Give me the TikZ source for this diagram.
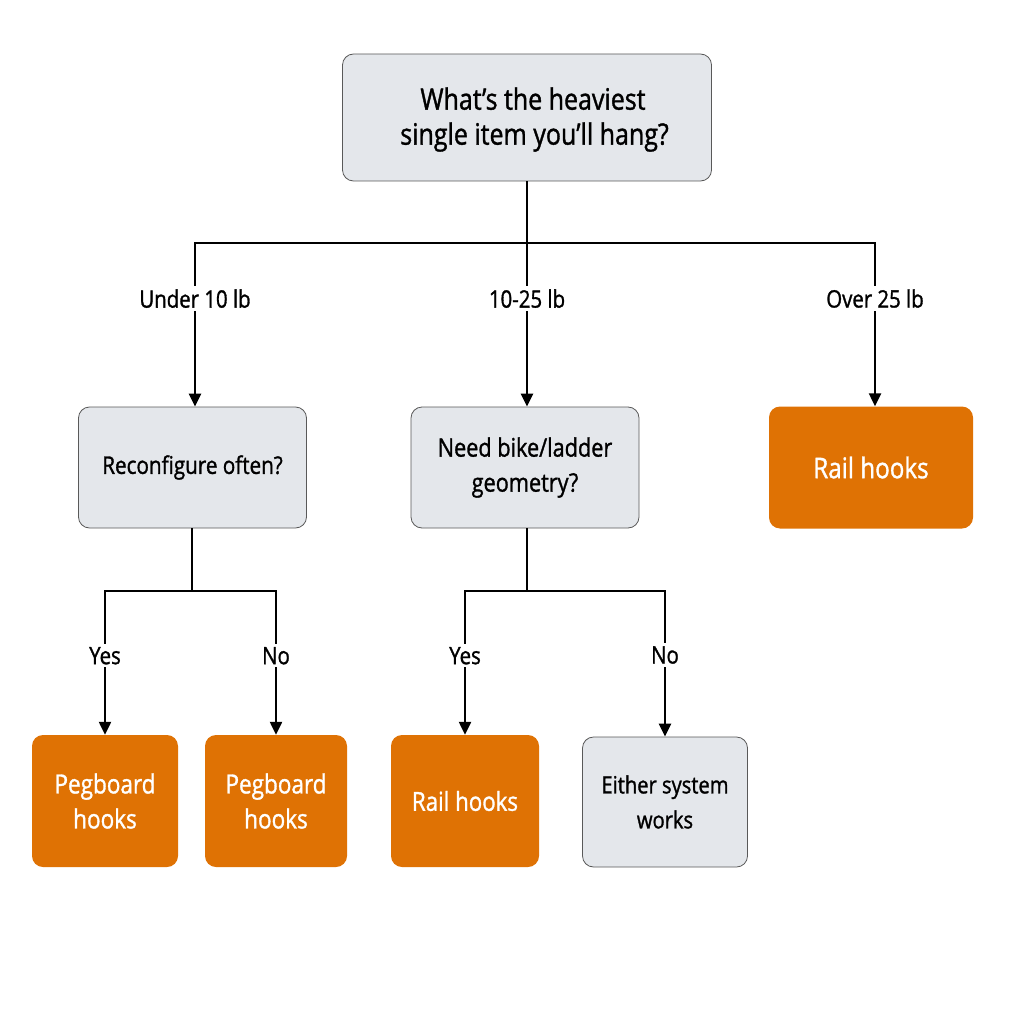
\documentclass[tikz,border=0pt]{standalone}
\usepackage{fontspec}
\setmainfont[FakeStretch=0.85,FakeBold=1.2]{Open Sans}
\usetikzlibrary{arrows.meta}

\definecolor{boxgray}{HTML}{E4E7EB}
\definecolor{boxorange}{HTML}{DF7204}

\begin{document}
\begin{tikzpicture}[
  x=1pt,y=-1pt,
  size/.style={font=\fontsize{#1}{35}\selectfont},
  question/.style={draw=black!65,fill=boxgray,rounded corners=11pt,line width=0.8pt,align=center,inner sep=0pt,text=black},
  answer/.style={fill=boxorange,rounded corners=11pt,align=center,inner sep=0pt,text=white},
  branch/.style={fill=white,inner sep=3pt,text=black,size=24},
  wire/.style={line width=2.3pt,black},
  arrow/.style={wire,-{Stealth[length=13pt,width=12pt,inset=0pt]}}
]

\useasboundingbox (0,0) rectangle (1024,1024);

% boxes
\node[question,size=29.4,minimum width=369pt,minimum height=127pt] (heavy) at (527,117.5) {\hspace*{12pt}\raisebox{-2pt}[\height][\depth]{What's the heaviest}\\\hspace*{15pt}\raisebox{-2pt}[\height][\depth]{single item you'll hang?}};
\node[question,size=24.3,minimum width=228pt,minimum height=121pt] (often) at (192.5,467.5) {Reconfigure often?};
\node[question,size=25.5,minimum width=228pt,minimum height=121pt] (geom) at (525,467.5) {\raisebox{-2pt}{Need bike/ladder}\\\raisebox{-2pt}{geometry?}};
\node[answer,size=28.5,minimum width=204pt,minimum height=122pt] (rail1) at (871,467.5) {Rail hooks};
\node[answer,size=26.5,minimum width=146pt,minimum height=132pt] (peg1) at (105,801) {Pegboard\\hooks};
\node[answer,size=26.5,minimum width=142pt,minimum height=132pt] (peg2) at (276,801) {Pegboard\\hooks};
\node[answer,size=26.2,minimum width=148pt,minimum height=132pt] (rail2) at (465,801) {Rail hooks};
\node[question,size=23.7,minimum width=165pt,minimum height=130pt] (either) at (665,802) {Either system\\works};

% junctions
\coordinate (top) at (527,243);
\coordinate (topl) at (195,243);
\coordinate (topr) at (875,243);
\coordinate (midl) at (192,591);
\coordinate (midr) at (527,591);

\draw[wire] (heavy.south -| top) -- (top);
\draw[wire,line cap=rect] (topl) -- (topr);
\draw[wire] (often.south -| midl) -- (midl);
\draw[wire] (geom.south -| midr) -- (midr);
\draw[wire,line cap=rect] (peg1.north |- midl) -- (peg2.north |- midl);
\draw[wire,line cap=rect] (rail2.north |- midr) -- (either.north |- midr);

% arrows with labels
\draw[arrow] (topl) -- node[branch,pos=0.34] (under) {Under 10 lb} (topl |- often.north);
\draw[arrow] (top) -- node[branch,pos=0.34] (mid) {10-25 lb} (top |- geom.north);
\draw[arrow] (topr) -- node[branch,pos=0.34] (over) {Over 25 lb} (topr |- rail1.north);

\draw[arrow] (peg1.north |- midl) -- node[branch,pos=0.45] (y1) {Yes} (peg1.north);
\draw[arrow] (peg2.north |- midl) -- node[branch,pos=0.45] (n1) {No} (peg2.north);
\draw[arrow] (rail2.north |- midr) -- node[branch,pos=0.45] (y2) {Yes} (rail2.north);
\draw[arrow] (either.north |- midr) -- node[branch,pos=0.44] (n2) {No} (either.north);

\end{tikzpicture}
\end{document}
